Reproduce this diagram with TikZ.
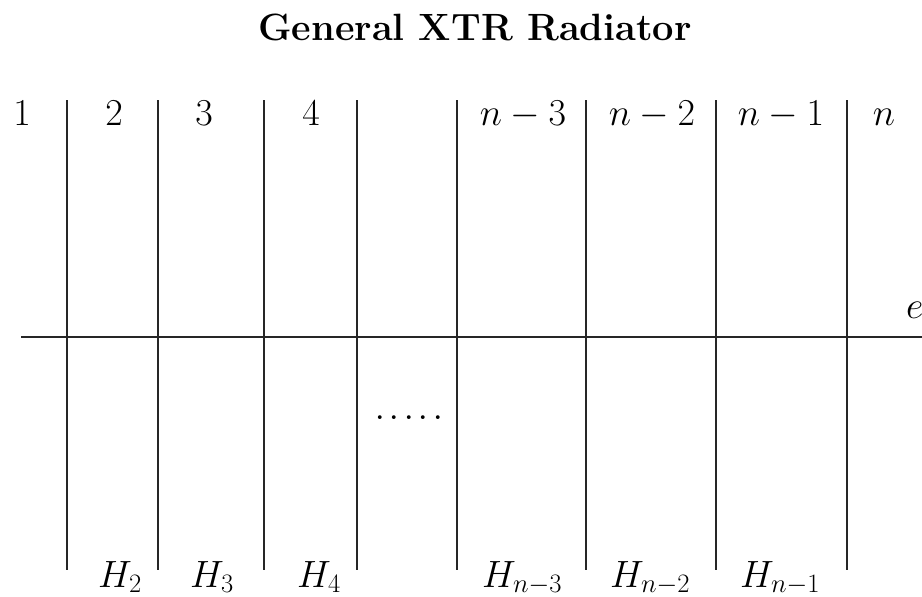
\RequirePackage{fix-cm}
\documentclass[tikz,border=0pt]{standalone}
\usepackage{fontspec}
\begin{document}
\begin{tikzpicture}[x=1pt,y=-1pt,
  wire/.style={line width=1.7pt,draw=black!85},
  lab/.style={inner sep=0pt,anchor=base,font=\fontsize{38}{40}\selectfont},
  hlab/.style={inner sep=0pt,anchor=base west,font=\fontsize{38}{40}\selectfont},
  ttl/.style={inner sep=0pt,anchor=base,font=\fontsize{38}{40}\selectfont\bfseries}]
\useasboundingbox (0,0) rectangle (922,597);
\node[ttl] (title) at (475,40) {General XTR Radiator};
% vertical lines
\foreach \i/\x in {1/67,2/158,3/264,4/357,5/457,6/586,7/716,8/847}{
  \coordinate (t\i) at (\x,100);
  \coordinate (b\i) at (\x,570);
}
\foreach \i in {1,...,8}{ \draw[wire] (t\i) -- (b\i); }
% horizontal line
\coordinate (hl) at (21,337);
\coordinate (hr) at (922,337);
\draw[wire] (hl) -- (hr);
% top labels
\node[lab] (l1) at (22,125) {$1$};
\node[lab] (l2) at (114,125) {$2$};
\node[lab] (l3) at (204,125) {$3$};
\node[lab] (l4) at (311,125) {$4$};
\node[lab] (ln3) at (523,125) {$n-3$};
\node[lab] (ln2) at (652,125) {$n-2$};
\node[lab] (ln1) at (781,125) {$n-1$};
\node[lab] (ln) at (884,125) {$n$};
% e
\node[hlab] (e) at (906,318) {$e$};
% dots
\node[lab,font=\fontsize{46}{48}\selectfont] (dots) at (409,419) {.\kern3pt.\kern3pt.\kern3pt.\kern3pt.};
% bottom labels
\node[hlab] (h2) at (98,587) {$H_2$};
\node[hlab] (h3) at (190,587) {$H_3$};
\node[hlab] (h4) at (297,587) {$H_4$};
\node[hlab] (hn3) at (482,587) {$H_{n-3}$};
\node[hlab] (hn2) at (610,587) {$H_{n-2}$};
\node[hlab] (hn1) at (740,587) {$H_{n-1}$};
\end{tikzpicture}
\end{document}
